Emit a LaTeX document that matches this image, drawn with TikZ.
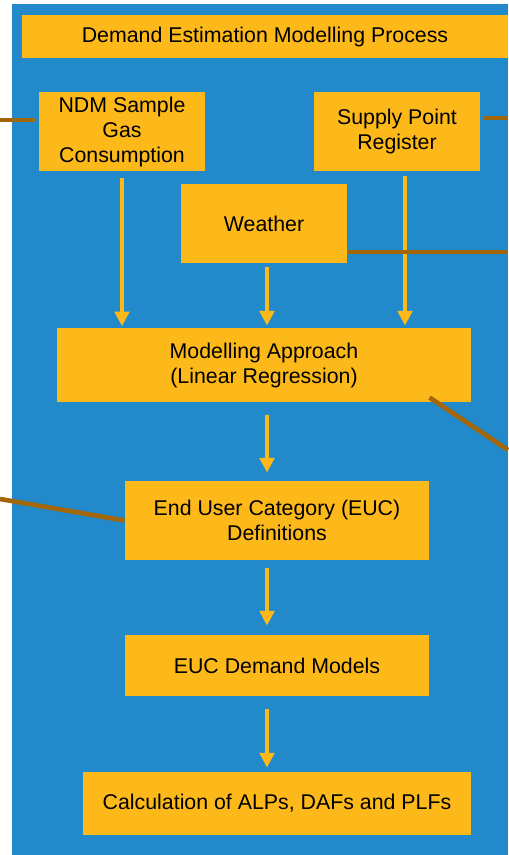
\documentclass[tikz,border=0pt]{standalone}
\usepackage{fontspec}
\setmainfont{Liberation Sans}
\usetikzlibrary{arrows.meta}

\definecolor{panelblue}{RGB}{34,137,202}
\definecolor{boxyellow}{RGB}{253,185,26}
\definecolor{linkbrown}{RGB}{163,102,8}

\tikzset{every picture/.style={line width=0.75pt},
  procbox/.style={fill=boxyellow, draw=none, inner sep=0pt, align=center, font=\fontsize{16}{18.75}\selectfont},
  flow/.style={draw=boxyellow, line width=2.5pt, -{Triangle[width=11pt,length=11pt]}},
  link/.style={draw=linkbrown, line width=3.5pt}}

\begin{document}
\begin{tikzpicture}[x=0.75pt,y=0.75pt,yscale=-1,xscale=1]
	\useasboundingbox (0,0) rectangle (508,855);

	%Shape: Rectangle [panel]
	\fill [panelblue] (12,4) rectangle (508,855);

	% Text Node
	\node [procbox, minimum width=364.5pt, minimum height=32.25pt] (title) at (265,36.5) {Demand Estimation Modelling Process};
	% Text Node
	\node [procbox, minimum width=124.5pt, minimum height=59.25pt] (ndm) at (122,131.5) {NDM Sample\\Gas\\Consumption};
	% Text Node
	\node [procbox, minimum width=124.5pt, minimum height=59.25pt] (spr) at (397,131.5) {Supply Point\\Register};
	% Text Node
	\node [procbox, minimum width=124.5pt, minimum height=59.25pt] (weather) at (264,223.5) {Weather};
	% Text Node
	\node [procbox, minimum width=310.5pt, minimum height=55.5pt] (model) at (264,365) {Modelling Approach\\(Linear Regression)};
	% Text Node
	\node [procbox, minimum width=228pt, minimum height=59.25pt] (euc) at (277,520.5) {End User Category (EUC)\\Definitions};
	% Text Node
	\node [procbox, minimum width=228pt, minimum height=45.75pt] (dem) at (277,665.5) {EUC Demand Models};
	% Text Node
	\node [procbox, minimum width=291pt, minimum height=47.25pt] (calc) at (277,803.5) {Calculation of ALPs, DAFs and PLFs};

	% free ends of the outside links
	\coordinate (ndmL) at (0,120);
	\coordinate (sprR) at (508,118);
	\coordinate (wthR) at (508,252);
	\coordinate (modR) at (508,450);
	\coordinate (eucL) at (0,499);

	%Straight Lines [inputs]
	\draw [flow, shorten <=5pt, shorten >=1pt] (ndm.south) -- (ndm.south |- model.north);
	\draw [flow, shorten <=3pt, shorten >=1.5pt] ([xshift=2.25pt]weather.south) -- ([xshift=2.25pt]weather.south |- model.north);
	\draw [flow, shorten <=3.75pt, shorten >=1.5pt] ([xshift=6pt]spr.south) -- ([xshift=6pt]spr.south |- model.north);
	%Straight Lines [chain]
	\draw [flow, shorten <=9pt, shorten >=6pt] ([xshift=2.25pt]model.south) -- ([xshift=2.25pt]model.south |- euc.north);
	\draw [flow, shorten <=5.25pt, shorten >=6.75pt] ([xshift=-7.5pt]euc.south) -- ([xshift=-7.5pt]dem.north);
	\draw [flow, shorten <=9pt, shorten >=3pt] ([xshift=-7.5pt]dem.south) -- ([xshift=-7.5pt]dem.south |- calc.north);

	%Straight Lines [links]
	\draw [link, shorten >=3pt] (ndmL) -- (ndmL -| ndm.west);
	\draw [link, shorten <=2.25pt] (sprR -| spr.east) -- (sprR);
	\draw [link] (wthR -| weather.east) -- (wthR);
	\draw [link] ([xshift=-31.5pt,yshift=-3.75pt]model.south east) -- (modR);
	\draw [link] (eucL) -- (euc.west);

\end{tikzpicture}
\end{document}
